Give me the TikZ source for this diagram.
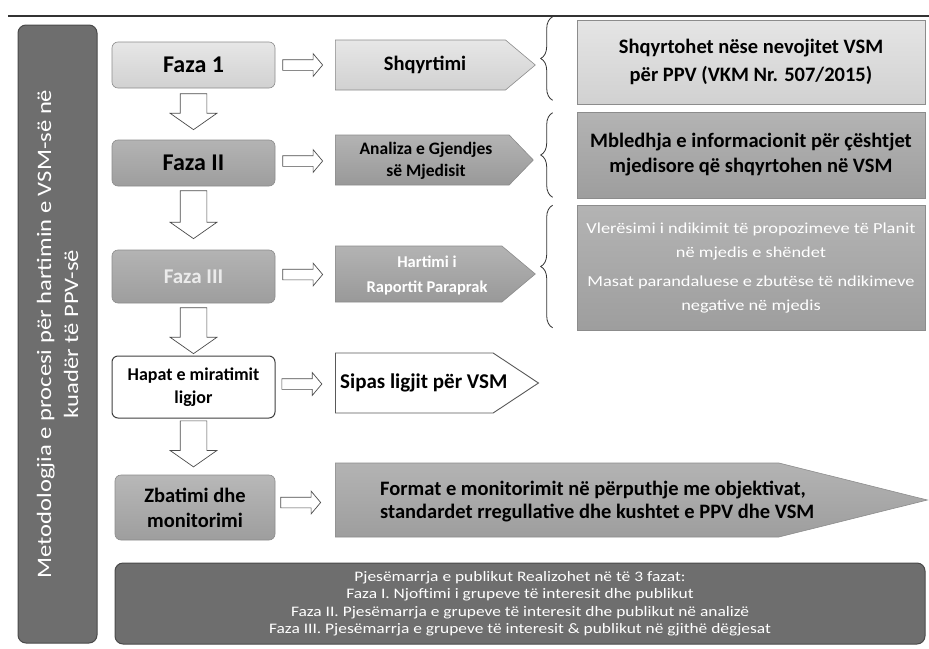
\documentclass[tikz,border=0pt]{standalone}
\usepackage{fontspec}
\setmainfont{Carlito}
\newfontfamily\widefont[FakeStretch=1.2]{Carlito}
\usetikzlibrary{shapes.arrows,decorations.pathreplacing,calc}
\definecolor{dkgray}{HTML}{6E6E6E}
\definecolor{dkedge}{HTML}{4A4A4A}
\definecolor{ltgray}{HTML}{DCDCDC}
\definecolor{mdgray}{HTML}{A6A6A6}
\definecolor{edgegray}{HTML}{8C8C8C}
\begin{document}
\begin{tikzpicture}[x=1pt,y=-1pt,
  phasebox/.style={rounded corners=6pt, draw=edgegray, line width=0.6pt, minimum width=163pt, inner sep=0pt, align=center},
  pent/.style={single arrow, single arrow head extend=0pt, inner sep=0pt, draw=edgegray, line width=0.6pt},
  hollowh/.style={single arrow, draw=black!70, fill=white, line width=0.7pt, inner xsep=0pt, inner ysep=5pt,
     minimum height=40pt, single arrow head extend=6pt, single arrow tip angle=100},
  hollowv/.style={single arrow, draw=black!70, fill=white, line width=0.7pt, inner xsep=0pt, inner ysep=13pt, rotate=-90,
     minimum height=36pt, single arrow head extend=10pt, single arrow tip angle=110},
  rbox/.style={draw=edgegray, line width=0.6pt, minimum width=348pt, inner sep=0pt, align=center},
  bracestyle/.style={decorate, decoration={brace, amplitude=12pt}, draw=black!80, line width=0.8pt},
  txt/.style={inner sep=0pt, align=center}
]
\useasboundingbox[fill=white] (0,0) rectangle (929,648);
% top rule
\draw[line width=2.5pt, color=black!80] (8,16) -- (929,16);
% left vertical box
\node[rotate=90, minimum width=618pt, minimum height=79pt, rounded corners=8pt, fill=dkgray, draw=dkedge, line width=1pt,
  text=white, align=center, inner sep=0pt, font=\widefont\fontsize{20.5}{27}\selectfont] (meth) at (57.5,334)
  {Metodologjia e procesi për hartimin e VSM-së në\\kuadër të PPV-së};

% phase column
\node[phasebox, minimum height=46pt, top color=ltgray!70, bottom color=ltgray!95!black, font=\fontsize{24}{26}\selectfont\bfseries] (f1) at (193.5,65) {Faza 1};
\node[phasebox, minimum height=46pt, top color=mdgray!85, bottom color=mdgray!95!black, font=\fontsize{24}{26}\selectfont\bfseries] (f2) at (193.5,163) {Faza II};
\node[phasebox, minimum height=53pt, top color=mdgray!85, bottom color=mdgray!95!black, text=white!92!black, font=\fontsize{21}{24}\selectfont\bfseries] (f3) at (193.5,276.5) {Faza III};
\node[phasebox, minimum height=62pt, fill=white, draw=black!75, line width=1pt, font=\fontsize{18}{23}\selectfont\bfseries] (hap) at (193.5,387) {Hapat e miratimit\\ligjor};
\node[phasebox, minimum height=65pt, minimum width=160pt, top color=mdgray!80, bottom color=mdgray!95!black, font=\fontsize{20.5}{25}\selectfont\bfseries] (zb) at (195,507.5) {Zbatimi dhe\\monitorimi};

% down arrows
\node[hollowv, anchor=tail] (d1) at ($(f1.south)+(0,5)$) {};
\node[hollowv, anchor=tail, minimum height=48pt] (d2) at ($(f2.south)+(0,4)$) {};
\node[hollowv, anchor=tail, minimum height=46pt] (d3) at ($(f3.south)+(0,4)$) {};
\node[hollowv, anchor=tail, minimum height=46pt] (d4) at ($(hap.south)+(0,2)$) {};

% pentagon arrows
\node[pent, anchor=tail, minimum height=200pt, minimum width=50pt, single arrow tip angle=80, top color=ltgray!70, bottom color=ltgray!95!black] (s1) at (335,65) {};
\node[pent, anchor=tail, minimum height=198pt, minimum width=50pt, single arrow tip angle=92, top color=mdgray!85, bottom color=mdgray!92!black] (s2) at (335,160) {};
\node[pent, anchor=tail, minimum height=200pt, minimum width=56pt, single arrow tip angle=80, top color=mdgray!85, bottom color=mdgray!92!black] (s3) at (335,274) {};
\node[pent, anchor=tail, minimum height=203pt, minimum width=60pt, single arrow tip angle=67, fill=white, draw=black!65, line width=0.9pt] (s4) at (335,383) {};
\node[pent, anchor=tail, minimum height=592pt, minimum width=74pt, single arrow tip angle=28, top color=mdgray!85, bottom color=mdgray!95!black] (s5) at (335,500) {};

\node[txt, font=\fontsize{20.5}{24}\selectfont\bfseries] (t1) at (425,65) {Shqyrtimi};
\node[txt, font=\fontsize{17.5}{22}\selectfont\bfseries] (t2) at (426,161) {Analiza e Gjendjes\\së Mjedisit};
\node[txt, font=\fontsize{16.5}{25}\selectfont\bfseries, text=white] (t3) at (427,275) {Hartimi i\\Raportit Paraprak};
\node[txt, anchor=west, font=\fontsize{21}{25}\selectfont\bfseries] (t4) at (340,383) {Sipas ligjit për VSM};
\node[txt, anchor=west, align=left, font=\fontsize{20.5}{23}\selectfont\bfseries] (t5) at (380,502) {Format e monitorimit në përputhje me objektivat,\\standardet rregullative dhe kushtet e PPV dhe VSM};

% horizontal hollow arrows
\node[hollowh, anchor=tail] (h1) at ($(f1.east)+(7,0)$) {};
\node[hollowh, anchor=tail] (h2) at ($(f2.east)+(7,-2)$) {};
\node[hollowh, anchor=tail] (h3) at ($(f3.east)+(7,-2)$) {};
\node[hollowh, anchor=tail] (h4) at ($(hap.east)+(6,-3)$) {};
\node[hollowh, anchor=tail] (h5) at ($(zb.east)+(5,-5)$) {};

% right boxes
\node[rbox, minimum height=84pt, top color=ltgray!75, bottom color=ltgray!95!black, font=\fontsize{20.5}{28}\selectfont\bfseries] (r1) at (751,62) {Shqyrtohet nëse nevojitet VSM\\për PPV (VKM Nr. 507/2015)};
\node[rbox, minimum height=86pt, top color=mdgray!85, bottom color=mdgray!95!black, font=\fontsize{20.5}{25}\selectfont\bfseries] (r2) at (751,155) {Mbledhja e informacionit për çështjet\\mjedisore që shqyrtohen në VSM};
\node[rbox, minimum height=125pt, top color=mdgray!85, bottom color=mdgray!95!black, text=white, font=\widefont\fontsize{15.3}{24}\selectfont] (r3) at (751,268) {Vlerësimi i ndikimit të propozimeve të Planit\\në mjedis e shëndet\\[5pt]Masat parandaluese e zbutëse të ndikimeve\\negative në mjedis};

% braces
\draw[bracestyle] ($(r1.south west)+(-24,-4)$) -- ($(r1.north west)+(-24,-3)$);
\draw[bracestyle] ($(r2.south west)+(-24,-1)$) -- ($(r2.north west)+(-24,1)$);
\draw[bracestyle] ($(r3.south west)+(-24,-3)$) -- ($(r3.north west)+(-24,0)$);

% bottom box
\node[minimum width=810pt, minimum height=81pt, rounded corners=8pt, fill=dkgray, draw=dkedge, line width=1pt,
  text=white, align=center, inner sep=0pt, font=\widefont\fontsize{14.5}{17.5}\selectfont] (pub) at (520,603.5)
  {Pjesëmarrja e publikut Realizohet në të 3 fazat:\\
   Faza I. Njoftimi i grupeve të interesit dhe publikut\\
   Faza II. Pjesëmarrja e grupeve të interesit dhe publikut në analizë\\
   Faza III. Pjesëmarrja e grupeve të interesit \& publikut në gjithë dëgjesat};
\end{tikzpicture}
\end{document}
